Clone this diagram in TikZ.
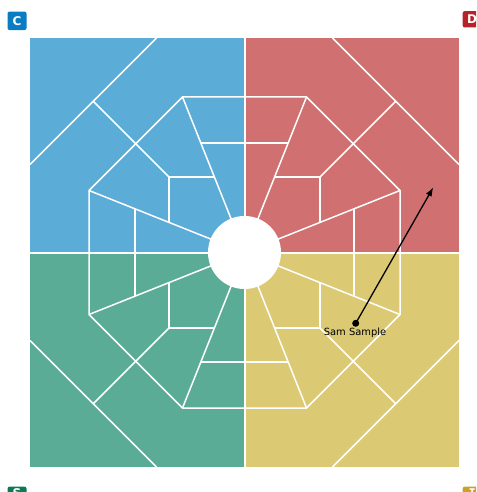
\documentclass[tikz,border=0pt]{standalone}
\usepackage{fontspec}
\setmainfont{DejaVu Sans}
\newfontfamily\monobold{DejaVu Sans Mono}
\usetikzlibrary{arrows.meta}
\definecolor{qblue}{RGB}{92,172,216}
\definecolor{qred}{RGB}{208,112,112}
\definecolor{qgreen}{RGB}{91,172,150}
\definecolor{qyellow}{RGB}{219,201,116}
\definecolor{bC}{RGB}{10,124,194}
\definecolor{bD}{RGB}{181,34,42}
\definecolor{bS}{RGB}{14,122,85}
\definecolor{bI}{RGB}{201,162,39}
\newcommand\quadrantlines{%
  \draw[wline] (-88,-214.5) -- (-214.5,-88);
  \draw[wline] (0,-155.5) -- (-62,-155.5) -- (-155.5,-62) -- (-155.5,0);
  \draw[wline] (-62,-155.5) -- (0,0);
  \draw[wline] (-155.5,-62) -- (0,0);
  \draw[wline] (-151.25,-151.25) -- (-75.5,-75.5);
  \draw[wline] (-30.1,-75.5) -- (-75.5,-75.5) -- (-75.5,-30.1);
  \draw[wline] (-43.66,-109.5) -- (0,-109.5);
  \draw[wline] (-109.5,-43.66) -- (-109.5,0);
}
\begin{document}
\begin{tikzpicture}[x=1pt,y=-1pt,
  wline/.style={white, line width=1.5pt},
  axisline/.style={white, line width=2pt},
  badge/.style={rounded corners=2pt, minimum width=19pt, minimum height=18.5pt, inner sep=0pt, text=white, font=\fontsize{12}{12}\selectfont\bfseries},
  lbl/.style={font=\fontsize{9.9}{12}\selectfont, inner sep=0pt}]
\useasboundingbox (0,0) rectangle (476,492);
\clip (0,0) rectangle (476,492);
\begin{scope}[shift={(244.5,252.5)}]
  \fill[qblue] (-214.5,-214.5) rectangle (0,0);
  \fill[qred] (0,-214.5) rectangle (214.5,0);
  \fill[qgreen] (-214.5,0) rectangle (0,214.5);
  \fill[qyellow] (0,0) rectangle (214.5,214.5);
  \begin{scope}\quadrantlines\end{scope}
  \begin{scope}[xscale=-1]\quadrantlines\end{scope}
  \begin{scope}[yscale=-1]\quadrantlines\end{scope}
  \begin{scope}[xscale=-1,yscale=-1]\quadrantlines\end{scope}
  \draw[axisline] (0,-214.5) -- (0,214.5);
  \draw[axisline] (-214.5,0) -- (214.5,0);
  \fill[white] (0,0) circle (36.5);
\end{scope}
\node[circle, fill=black, inner sep=0pt, minimum size=7pt] (dot) at (355.7,323.3) {};
\coordinate (tip) at (433.3,187.3);
\draw[line width=1.3pt, -{Latex[length=9pt,width=6.5pt]}] (dot.center) -- (tip);
\node[lbl, anchor=base] (name) at (355,335) {Sam Sample};
\node[badge, fill=bC] (bc) at (17,20.8) {C};
\node[badge, fill=bD, minimum height=16.3pt] (bd) at (472.2,19.3) {D};
\node[badge, fill=bS, minimum height=13.6pt] (bs) at (17,493.5) {S};
\node[badge, fill=bI, minimum height=13.6pt, font=\fontsize{12}{12}\selectfont\monobold\bfseries] (bi) at (472.2,493.5) {I};
\end{tikzpicture}
\end{document}
